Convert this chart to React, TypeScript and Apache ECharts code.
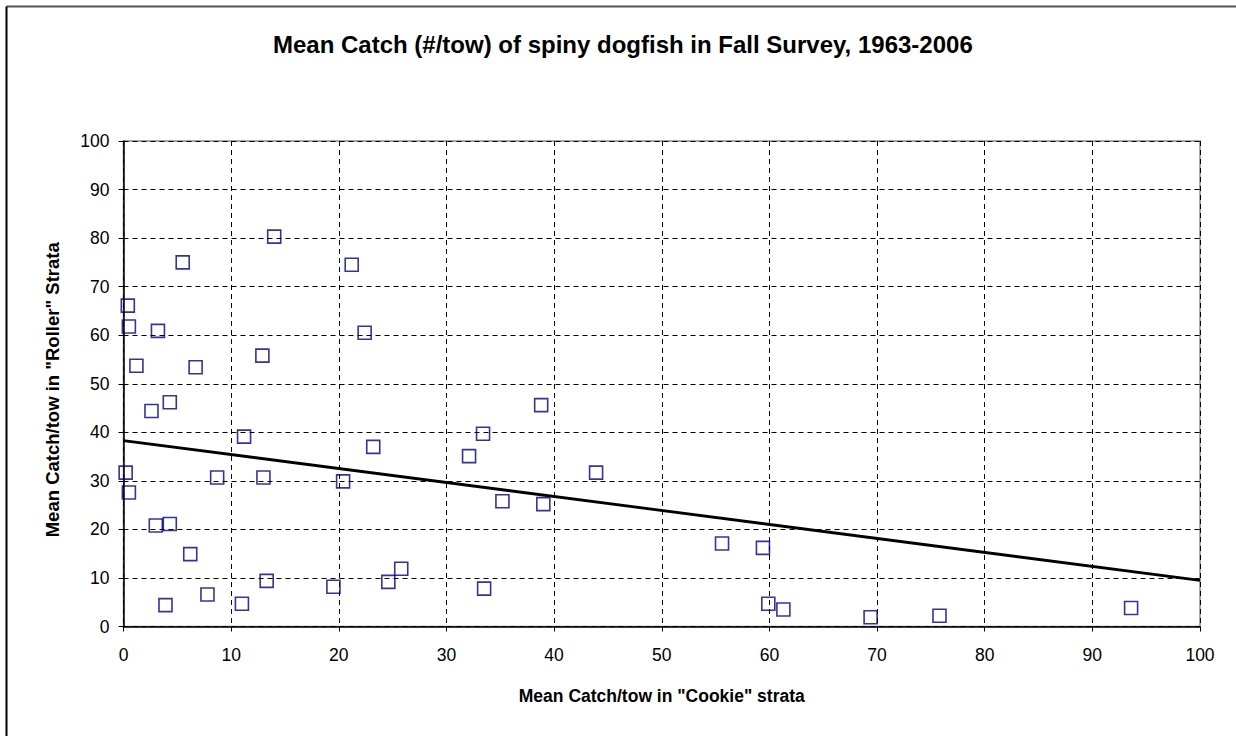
import React, { useEffect, useRef } from "react";
import * as echarts from "echarts";

const titleText = "Mean Catch (#/tow) of spiny dogfish in Fall Survey, 1963-2006";
const xAxisTitle = 'Mean Catch/tow in "Cookie" strata';
const yAxisTitle = 'Mean Catch/tow in "Roller" Strata';

const cookie = [
  14.0, 5.5, 21.2, 0.4, 0.5, 3.2, 22.4, 1.2, 6.7, 12.9,
  2.6, 4.3, 11.2, 23.2, 0.2, 0.5, 8.7, 13.0, 20.4, 3.0,
  4.3, 6.2, 3.9, 7.8, 11.0, 13.3, 19.5, 24.6, 25.8,
  38.8, 33.4, 32.1, 43.9, 35.2, 39.0, 33.5,
  55.6, 59.4, 59.9, 61.3, 69.4, 75.8, 93.6,
];
const roller = [
  80.3, 75.0, 74.5, 66.1, 61.8, 60.9, 60.5, 53.7, 53.4, 55.8,
  44.4, 46.2, 39.1, 37.0, 31.7, 27.6, 30.7, 30.7, 29.9, 20.8,
  21.1, 14.9, 4.4, 6.6, 4.7, 9.4, 8.2, 9.2, 11.9,
  45.6, 39.7, 35.1, 31.7, 25.8, 25.2, 7.8,
  17.1, 16.2, 4.7, 3.5, 1.9, 2.2, 3.8,
];
const trendX = [0, 100];
const trendY = [38.3, 9.5];

export default function App() {
  const ref = useRef<HTMLDivElement>(null);
  useEffect(() => {
    document.body.style.margin = "0";
    const chart = echarts.init(ref.current!, null, { renderer: "svg" });
    const font = "'Liberation Sans', Arial, sans-serif";
    chart.setOption({
      animation: false,
      backgroundColor: "#ffffff",
      textStyle: { fontFamily: font },
      title: {
        text: titleText,
        left: 273,
        top: 32,
        padding: 0,
        textStyle: { fontFamily: font, fontSize: 24, fontWeight: "bold", color: "#000" },
      },
      graphic: [
        { type: "line", shape: { x1: 6.5, y1: 6.5, x2: 1236, y2: 6.5 }, style: { stroke: "#555", lineWidth: 2 } },
        { type: "line", shape: { x1: 6.5, y1: 6.5, x2: 6.5, y2: 736 }, style: { stroke: "#000", lineWidth: 2 } },
      ],
      grid: {
        left: 123.5,
        top: 141,
        width: 1076.5,
        height: 485.5,
        show: true,
        borderColor: "#8a8a8a",
        borderWidth: 1.5,
        backgroundColor: "transparent",
      },
      xAxis: {
        type: "value",
        min: 0,
        max: 100,
        interval: 10,
        name: xAxisTitle,
        nameLocation: "middle",
        nameGap: 60,
        nameTextStyle: { fontFamily: font, fontSize: 17.5, fontWeight: "bold", color: "#000" },
        axisLine: { show: true, onZero: false, lineStyle: { color: "#000", width: 1.5 } },
        axisTick: { show: true, inside: false, length: 5, lineStyle: { color: "#000" } },
        axisLabel: { fontFamily: font, fontSize: 17.5, color: "#000", margin: 19 },
        splitLine: { show: true, lineStyle: { color: "#000", type: [5, 4], width: 1 } },
      },
      yAxis: {
        type: "value",
        min: 0,
        max: 100,
        interval: 10,
        name: yAxisTitle,
        nameLocation: "middle",
        nameGap: 62,
        nameTextStyle: { fontFamily: font, fontSize: 18.5, fontWeight: "bold", color: "#000", padding: [0, 12, 0, 0] },
        axisLine: { show: true, onZero: false, lineStyle: { color: "#000", width: 1.5 } },
        axisTick: { show: true, inside: false, length: 5, lineStyle: { color: "#000" } },
        axisLabel: { fontFamily: font, fontSize: 17.5, color: "#000", margin: 14 },
        splitLine: { show: true, lineStyle: { color: "#000", type: [5, 4], width: 1 } },
      },
      series: [
        {
          type: "line",
          data: trendX.map((x, i) => [x, trendY[i]]),
          symbol: "none",
          lineStyle: { color: "#000", width: 2.8 },
          z: 3,
        },
        {
          type: "scatter",
          data: cookie.map((x, i) => [x, roller[i]]),
          symbol: "rect",
          symbolSize: 13,
          itemStyle: { color: "transparent", borderColor: "#000080", borderWidth: 1.6 },
          z: 4,
        },
      ],
    });
    return () => chart.dispose();
  }, []);
  return <div ref={ref} style={{ position: "fixed", left: 0, top: 0, width: 1236, height: 736 }} />;
}
